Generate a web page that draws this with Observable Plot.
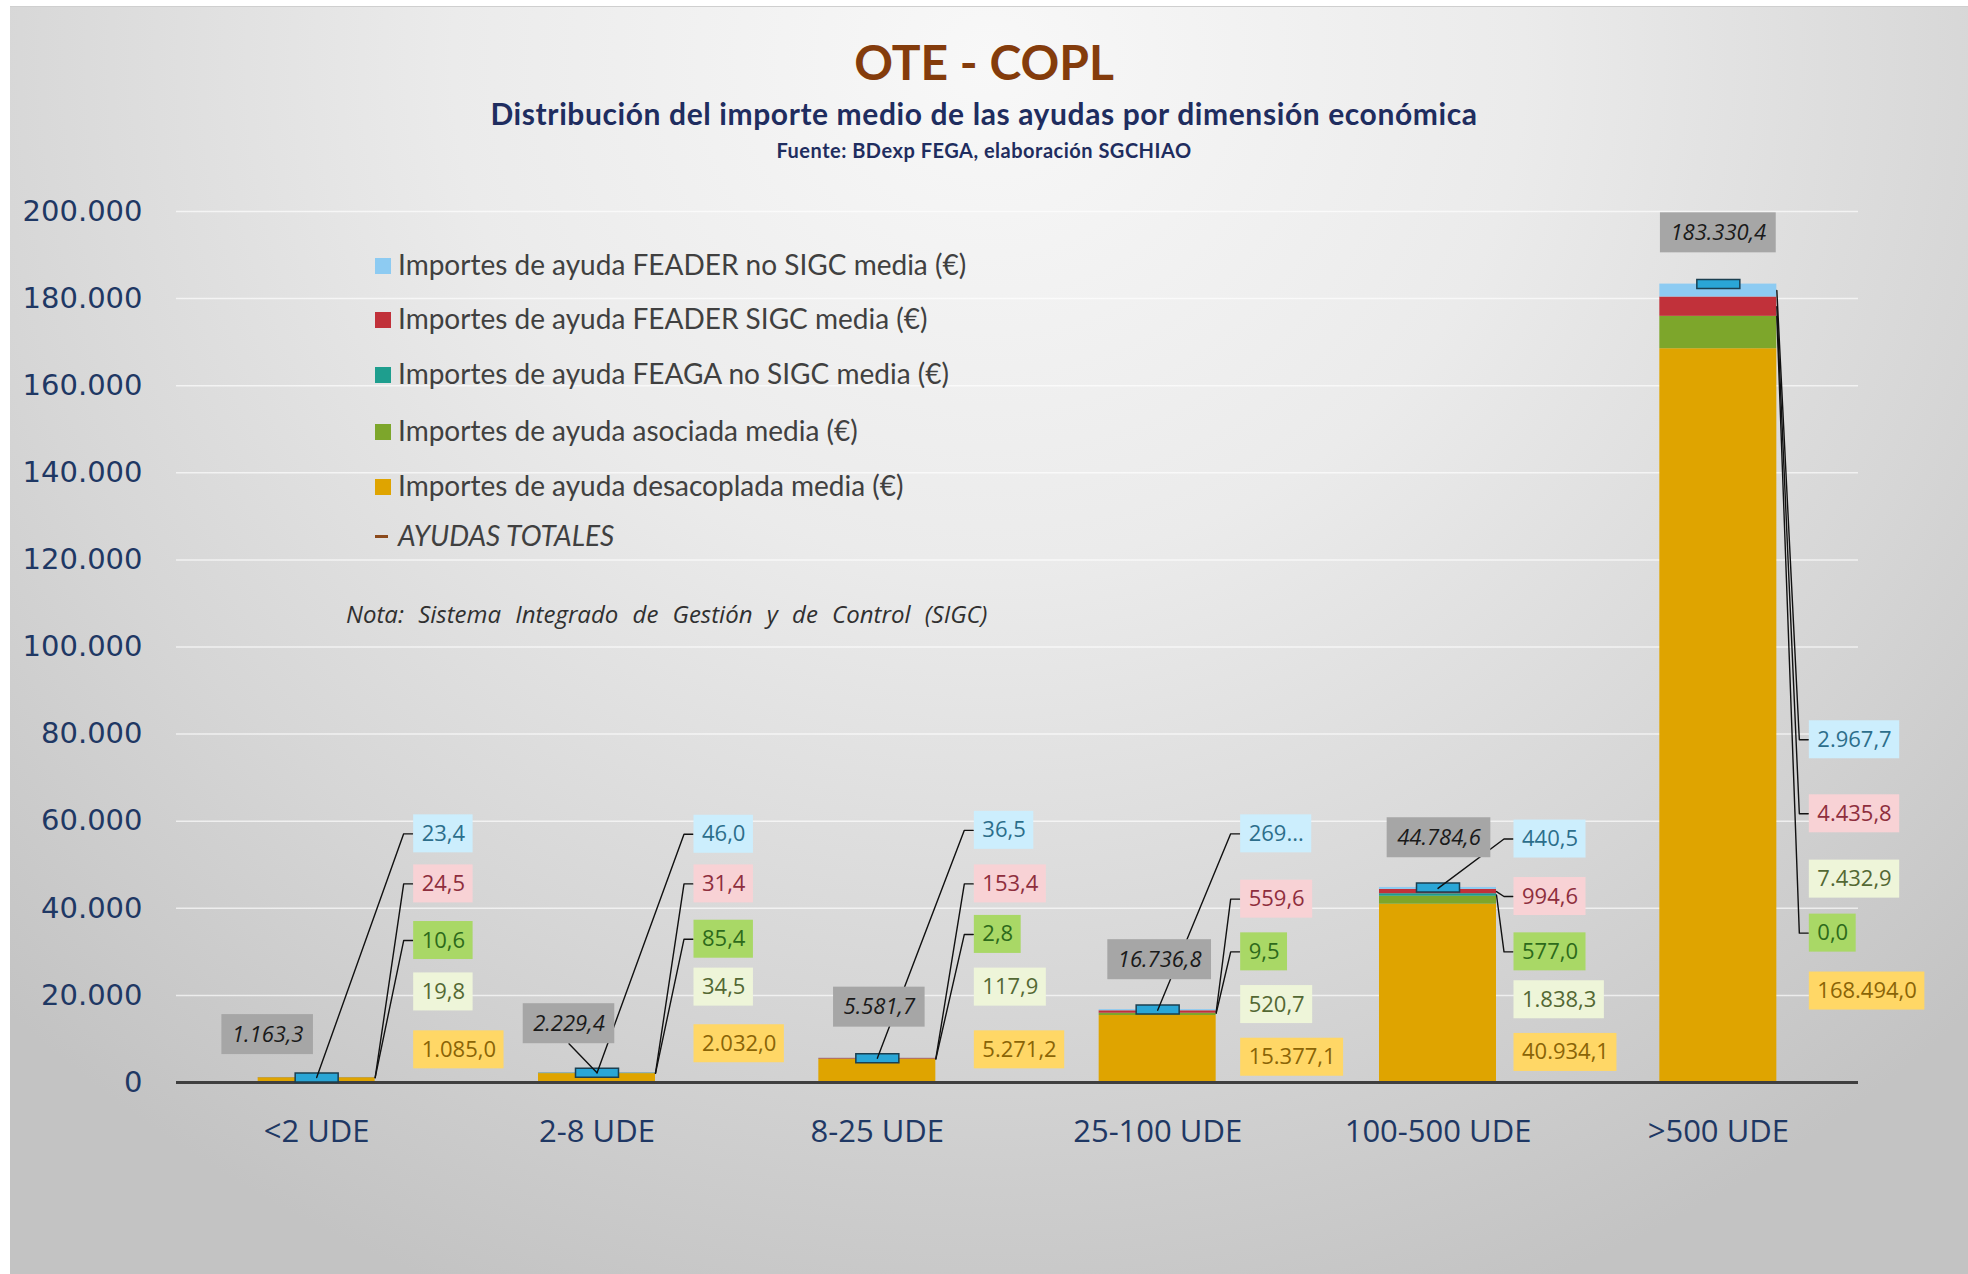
<!DOCTYPE html>
<html>
<head>
<meta charset="utf-8">
<script src="https://cdn.jsdelivr.net/npm/d3@7"></script>
<script src="https://cdn.jsdelivr.net/npm/@observablehq/plot@0.6"></script>
<style>
html, body { margin: 0; padding: 0; width: 1968px; height: 1274px; overflow: hidden; background: #ffffff; }
#bg { position: absolute; left: 10px; top: 6px; right: 0; bottom: 0;
  border-top: 1px solid #cfcfcf;
  background: radial-gradient(ellipse 72% 105% at 50% 4%, #f8f8f8 0%, #ebebeb 38%, #d6d6d6 72%, #c3c3c3 100%); }
#chart { position: absolute; left: 0; top: 0; }
.t { position: absolute; left: 0; width: 1968px; text-align: center; white-space: nowrap; line-height: 1; }
#title { top: 33px; font: bold 48px Lato, sans-serif; color: #843C0C; }
#subtitle { top: 95px; font: bold 30px Lato, sans-serif; letter-spacing: 0.6px; color: #1F2D5F; }
#source { top: 138px; font: bold 20px Lato, sans-serif; letter-spacing: 0.5px; color: #1F2D5F; }
#legend { position: absolute; left: 0; top: 0; }
.lrow { position: absolute; left: 375px; white-space: nowrap; line-height: 1; font: 28px Lato, sans-serif; color: #404040; }
.sw { display: inline-block; width: 16px; height: 16px; margin-right: 7px; position: relative; top: -1px; }
.dash { display: inline-block; width: 13px; height: 3px; background: #8B4A1C; margin-right: 10px; position: relative; top: -8px; }
#nota { position: absolute; left: 346px; top: 597px; line-height: 1; white-space: nowrap;
  font: italic 24px "Open Sans", sans-serif; color: #303030; word-spacing: 8px; }
</style>
</head>
<body>
<div id="bg"></div>
<div id="chart"></div>
<div class="t" id="title">OTE - COPL</div>
<div class="t" id="subtitle">Distribución del importe medio de las ayudas por dimensión económica</div>
<div class="t" id="source">Fuente: BDexp FEGA, elaboración SGCHIAO</div>
<div id="legend"></div>
<div id="nota">Nota: Sistema Integrado de Gestión y de Control (SIGC)</div>
<script>
// ---------------- DATA ----------------
const categories = ["<2 UDE", "2-8 UDE", "8-25 UDE", "25-100 UDE", "100-500 UDE", ">500 UDE"];
const desacoplada  = [1085.0, 2032.0, 5271.2, 15377.1, 40934.1, 168494.0];
const asociada     = [19.8, 34.5, 117.9, 520.7, 1838.3, 7432.9];
const feagaNoSigc  = [10.6, 85.4, 2.8, 9.5, 577.0, 0.0];
const feaderSigc   = [24.5, 31.4, 153.4, 559.6, 994.6, 4435.8];
const feaderNoSigc = [23.4, 46.0, 36.5, 269.9, 440.5, 2967.7];
const totales      = [1163.3, 2229.4, 5581.7, 16736.8, 44784.6, 183330.4];
const yTicks = [0, 20000, 40000, 60000, 80000, 100000, 120000, 140000, 160000, 180000, 200000];

const seriesKeys = ["desacoplada", "asociada", "feagaNoSigc", "feaderSigc", "feaderNoSigc"]; // bottom → top
const seriesValues = {desacoplada, asociada, feagaNoSigc, feaderSigc, feaderNoSigc};
const seriesNames = {
  feaderNoSigc: "Importes de ayuda FEADER no SIGC media (€)",
  feaderSigc: "Importes de ayuda FEADER SIGC media (€)",
  feagaNoSigc: "Importes de ayuda FEAGA no SIGC media (€)",
  asociada: "Importes de ayuda asociada media (€)",
  desacoplada: "Importes de ayuda desacoplada media (€)"
};
const totalName = "AYUDAS TOTALES";
const legendOrder = ["feaderNoSigc", "feaderSigc", "feagaNoSigc", "asociada", "desacoplada"];
// label shown truncated in the original chart
const textOverride = {"3|feaderNoSigc": "269..."};

// ---------------- STYLES ----------------
const barColors = {desacoplada: "#DFA400", asociada: "#7DA62B", feagaNoSigc: "#1E9E8E", feaderSigc: "#C1313A", feaderNoSigc: "#8DCBF2"};
const labelBg   = {desacoplada: "#FFD766", asociada: "#EEF5D9", feagaNoSigc: "#A9D866", feaderSigc: "#F8D2D5", feaderNoSigc: "#CCEEFD", total: "#A6A6A6"};
const labelInk  = {desacoplada: "#8A6406", asociada: "#536833", feagaNoSigc: "#2D6A1B", feaderSigc: "#8E2E3D", feaderNoSigc: "#2C6E8B", total: "#1A1A1A"};

// ---------------- LAYOUT ----------------
const W = 1968, H = 1274, mL = 176, mR = 110, mT = 211, mB = 192;
const yMax = 200000;
const step = (W - mL - mR) / categories.length;   // px per category
const pxPerY = (H - mT - mB) / yMax;
const u = px => px / step;      // px → x units
const v = px => px / pxPerY;    // px → y units
const barHalf = u(58.5);
// label vertical positions (value units)
const labelYs = {
  feaderNoSigc: [57100, 57000, 57900, 57100, 55900, 78700],
  feaderSigc:   [45600, 45600, 45600, 42100, 42700, 61700],
  feagaNoSigc:  [32600, 32900, 34000, 30000, 30000, 34300],
  asociada:     [20800, 21900, 21900, 17900, 19000, 46700],
  desacoplada:  [7500, 8900, 7500, 5800, 6900, 21000],
  total:        [11000, 13500, 17300, 28200, 56200, 195100]
};
const labelDx = [97, 97, 97, 83, 76, 91];   // px, box left from category centre
const totalDx = [-49, -28, 2, 2, 1, 0];     // px, total box centre from category centre
const blueAnchor = ["c", "c", "c", "c", "c", "r"];
const totalLeader = [false, true, false, false, false, false];
const legendY = [262, 316, 371, 428, 483, 533];
const LABEL_FONT = 22;

// ---------------- BUILD ----------------
const es = d3.formatLocale({decimal: ",", thousands: ".", grouping: [3], currency: ["", "€"]});
const f1 = es.format(",.1f"), f0 = es.format(",.0f");

const rows = [];
categories.forEach((c, i) => seriesKeys.forEach(k => rows.push({i, key: k, value: seriesValues[k][i]})));

const cum = categories.map((c, i) => {
  let s = 0; const o = {};
  for (const k of seriesKeys) { o[k] = [s, s + seriesValues[k][i]]; s += seriesValues[k][i]; }
  return o;
});

const ctx = document.createElement("canvas").getContext("2d");
function tw(text, italic) { ctx.font = `${italic ? "italic " : ""}${LABEL_FONT}px "Open Sans"`; return ctx.measureText(text).width; }

const BOX_H = 38, PAD = 8, TBOX_H = 40, TPAD = 10;
const labels = [], totLabels = [];
categories.forEach((c, i) => {
  for (const k of legendOrder) {
    const text = textOverride[`${i}|${k}`] ?? f1(seriesValues[k][i]);
    const w = tw(text, false) + 2 * PAD;
    const x1 = i + u(labelDx[i]);
    const y = labelYs[k][i];
    labels.push({i, k, text, x1, x2: x1 + u(w), tx: x1 + u(PAD), y, y1: y - v(BOX_H / 2), y2: y + v(BOX_H / 2), bg: labelBg[k], ink: labelInk[k]});
  }
  const text = f1(totales[i]);
  const w = tw(text, true) + 2 * TPAD;
  const cx = i + u(totalDx[i]);
  const y = labelYs.total[i];
  totLabels.push({i, text, cx, x1: cx - u(w / 2), x2: cx + u(w / 2), y, y1: y - v(TBOX_H / 2), y2: y + v(TBOX_H / 2), bg: labelBg.total, ink: labelInk.total});
});

const leaders = [];
categories.forEach((c, i) => {
  for (const k of ["feaderNoSigc", "feaderSigc", "feagaNoSigc"]) {
    const L = labels.find(d => d.i === i && d.k === k);
    const right = k !== "feaderNoSigc" || blueAnchor[i] === "r";
    const [a, b] = cum[i][k];
    const id = `${i}-${k}`;
    leaders.push({id, x: L.x1 - u(1), y: L.y});
    leaders.push({id, x: L.x1 - u(10), y: L.y});
    leaders.push({id, x: right ? i + barHalf : i, y: (a + b) / 2});
  }
  if (totalLeader[i]) {
    const T = totLabels[i];
    leaders.push({id: `${i}-t`, x: T.cx, y: T.y1});
    leaders.push({id: `${i}-t`, x: i, y: totales[i]});
  }
});

const totRows = totales.map((t, i) => ({i, v: t}));
const markerSymbol = {draw(context) { context.rect(-21.5, -4.5, 43, 9); }};

const chart = Plot.plot({
  width: W, height: H,
  marginLeft: mL, marginRight: mR, marginTop: mT, marginBottom: mB,
  style: {background: "transparent", overflow: "visible"},
  x: {type: "linear", domain: [-0.5, categories.length - 0.5], axis: null},
  y: {domain: [0, yMax], axis: null},
  color: {type: "identity"},
  marks: [
    Plot.gridY({ticks: yTicks, stroke: "#ffffff", strokeOpacity: 0.65, strokeWidth: 1.5}),
    Plot.axisY({ticks: yTicks, tickSize: 0, tickPadding: 34, tickFormat: f0, label: null,
      fontFamily: "DejaVu Sans", fontSize: 29, fill: "#1F3864"}),
    Plot.axisX({ticks: d3.range(categories.length), tickSize: 0, tickPadding: 37, label: null,
      tickFormat: i => categories[i], fontFamily: "Open Sans", fontSize: 31, fill: "#1F3864"}),
    Plot.rectY(rows, {x1: d => d.i - barHalf, x2: d => d.i + barHalf, y: "value", z: "key", fill: d => barColors[d.key]}),
    Plot.ruleY([0], {stroke: "#3f3f3f", strokeWidth: 3}),
    Plot.dot(totRows, {x: "i", y: "v", symbol: markerSymbol, fill: "#2AA6D6", stroke: "#1B3F50", strokeWidth: 1.5}),
    Plot.line(leaders, {x: "x", y: "y", z: "id", stroke: "#111111", strokeWidth: 1.4}),
    Plot.rect(labels, {x1: "x1", x2: "x2", y1: "y1", y2: "y2", fill: "bg"}),
    Plot.rect(totLabels, {x1: "x1", x2: "x2", y1: "y1", y2: "y2", fill: "bg"}),
    Plot.text(labels, {x: "tx", y: "y", text: "text", fill: "ink", textAnchor: "start", fontFamily: "Open Sans", fontSize: LABEL_FONT}),
    Plot.text(totLabels, {x: "cx", y: "y", text: "text", fill: "ink", textAnchor: "middle", fontFamily: "Open Sans", fontSize: LABEL_FONT, fontStyle: "italic"})
  ]
});
document.getElementById("chart").appendChild(chart);

// ---------------- LEGEND ----------------
const legend = document.getElementById("legend");
legendOrder.forEach((k, j) => {
  const row = document.createElement("div");
  row.className = "lrow";
  row.style.top = (legendY[j] - 15) + "px";
  row.innerHTML = `<span class="sw" style="background:${barColors[k]}"></span>`;
  row.appendChild(document.createTextNode(seriesNames[k]));
  legend.appendChild(row);
});
const trow = document.createElement("div");
trow.className = "lrow";
trow.style.top = (legendY[5] - 15) + "px";
trow.innerHTML = `<span class="dash"></span><i></i>`;
trow.querySelector("i").textContent = totalName;
legend.appendChild(trow);
</script>
</body>
</html>
